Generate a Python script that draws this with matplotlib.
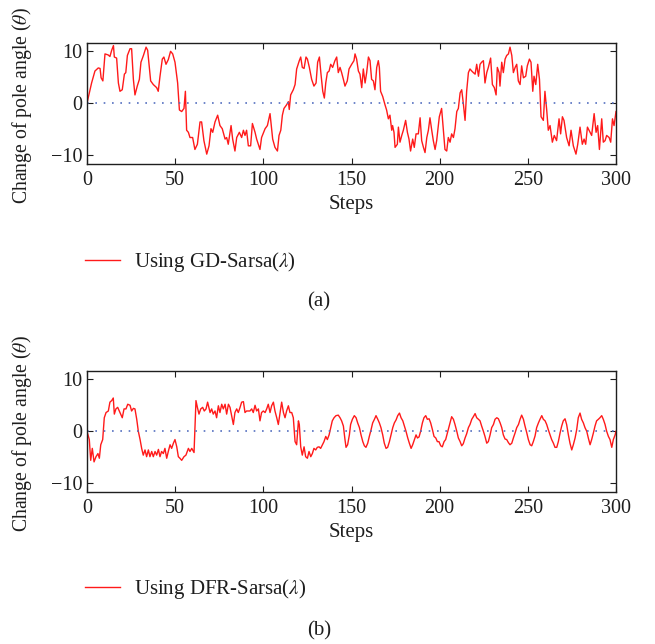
import matplotlib
matplotlib.use("Agg")
import matplotlib.pyplot as plt
from matplotlib.lines import Line2D

plt.rcParams['font.family'] = ['Liberation Serif', 'DejaVu Serif']
plt.rcParams['mathtext.fontset'] = 'stix'

# (a) GD-Sarsa(lambda): steps / pole angle change
steps_a = [0, 2.6, 4.5, 6.4, 7.4, 8, 9, 10.2, 12, 13, 14, 15, 15.5, 16.8, 17.8, 18.7, 20,
           21.2, 22, 22.9, 24.4, 25.3, 26.3, 27.2, 28.5, 29.7, 30.6, 32, 33.5, 34.4, 36.1,
           37.6, 39.5, 40.4, 41.4, 42.7, 43.6, 44.8, 46.1, 47.4, 48.6, 49.9, 51.4, 52.4,
           53.7, 55, 55.8, 56.5, 57.5, 58.4, 59.9, 61.2, 62.6, 64.1, 65, 66.3, 67.9, 69.2,
           70.3, 71.3, 72.6, 74.1, 75.4, 76.7, 78.3, 79.2, 80.1, 81.7, 82.6, 83.9, 84.9,
           86.4, 87.7, 88.7, 89.6, 90.5, 91.5, 92.8, 93.8, 95.3, 96.2, 98.1, 99, 101,
           102.3, 103.8, 104.4, 105.3, 106.6, 108, 108.9, 109.9, 110.8, 111.7, 113.2,
           114.2, 114.7, 115.5, 117, 118, 118.9, 120.4, 121.2, 122.1, 123.1, 124.2, 125,
           126.1, 127.4, 128.7, 129.9, 130.8, 131.8, 132.7, 133.7, 134.6, 135.4, 136.3,
           137.3, 138.2, 139.3, 140.6, 141.6, 142.5, 143.5, 144.4, 145.4, 146.3, 147.6,
           148.6, 150.1, 151.4, 152, 152.9, 153.9, 154.8, 155.8, 156.7, 157.7, 158.6,
           159.6, 160.5, 161.4, 162.4, 163.3, 164.3, 165.2, 165.8, 166.5, 167.7, 169,
           169.9, 170.9, 171.8, 172.8, 173.3, 174.1, 174.7, 176, 176.6, 177.5, 178.5,
           179.4, 180.7, 181.7, 182.6, 183.5, 184.7, 185.6, 186.6, 187.9, 188.9, 189.8,
           190.8, 191.7, 192.7, 193.6, 194.5, 195.5, 196.4, 197.4, 198.3, 199.8,
           201.1, 202.1, 203, 204, 204.9, 205.9, 206.8, 207.8, 208.7, 209.7, 210.6,
           211.6, 212.5, 213.4, 214.4, 215.3, 216.3, 217.2, 218.2, 219.1, 220.1, 221,
           222, 222.9, 223.8, 224.8, 225.7, 226.7, 227.6, 228.9, 229.9, 231, 232, 232.7,
           233.7, 234.2, 235.2, 236.1, 237.1, 238, 239, 239.9, 240.9, 241.8, 242.8,
           243.7, 244.6, 245.6, 246.5, 247.5, 248.8, 249.7, 250.9, 251.8, 252.8, 253.5,
           254.5, 255.6, 256.6, 257.5, 258.8, 259.7, 260.7, 261.6, 262.6, 263.9, 265,
           266.3, 267.7, 268.6, 269.6, 270.5, 272, 273.4, 274.5, 275.8, 277.3, 278.3,
           279.6, 280.9, 281.9, 282.8, 283.8, 284.7, 286.2, 287.6, 288.7, 289.6, 290.6,
           291.9, 292.8, 293.8, 294.7, 296.1, 297, 298, 298.9, 300]
angle_a = [0, 3.9, 6.2, 6.8, 6.7, 4.9, 4.3, 9.5, 9.3, 9, 10.2, 11.1, 8.9, 8.7, 3.9, 2.3, 2.6,
           5.6, 5.9, 9.2, 10.5, 10.5, 4.6, 1.6, 3.3, 4.6, 7.9, 9.2, 10.8, 10.2, 4.3,
           3.6, 3, 2.3, 5.2, 8.5, 8.9, 7.5, 8.4, 10, 9.5, 7.9, 3.9, -1.3,
           -1.6, -1, 2.3, -5.2, -5.6, -6.6, -6.6, -8.9, -7.9, -3.6, -3.6, -7.2, -9.8, -8.2,
           -4.9, -5.6, -3.6, -2.3, -4.3, -4.9, -6.9, -6.6, -7.9, -4.3, -6.9, -9.2, -6.6,
           -5.6, -6.6, -5.2, -6.2, -5.2, -8.2, -8.2, -3.9, -5.6, -6.9, -8.9, -6.6, -4.9,
           -4.3, -2, -3.9, -6.9, -8.5, -9.2, -6.2, -5.2, -2.3, -1, -0.3,
           0.3, -1.2, 1.6, 2.6, 3.6, 6.6, 8.2, 8.9, 6.9, 6.7, 8.9, 8.5,
           6.9, 4.6, 3.3, 3.9, 7.9, 8.9, 5.6, 2.3, 1, 3.9, 5.9,
           6.2, 7.5, 6.9, 8.2, 8.9, 5.9, 6.9, 5.9, 4.6, 3.3, 4.3,
           6.6, 7.5, 8.2, 9.5, 8.5, 6.2, 5.6, 3, 6.6, 3.9, 5.9,
           8.9, 8.2, 4.6, 4.3, 2.6, 6.9, 8.2, 6.9, 2.3, 1.3, -0.3,
           -1.3, -3, -2.3, -5.2, -4.3, -5.6, -8.5, -7.9, -4.6, -7.5, -6.2,
           -5.2, -3.3, -5.6, -6.9, -9.2, -6.9, -8.5, -5.9, -5.9, -2.8, -7.2,
           -8.5, -9.5, -6.6, -5.2, -2.8, -5.2, -7.2, -8.9, -7.2, -2.6,
           -1, -5.2, -8.9, -9.2, -6.6, -7.5, -5.9, -6.6, -4.9, -1.6, -1,
           2, 2.6, 0, -3.3, 2.3, 5.9, 6.6, 6.2, 5.9, 5.6, 7.5,
           5.2, 7.5, 7.9, 8.2, 3.9, 5.9, 6.9, 8.7, 3.6, 3, 1.6, 6.9,
           5.9, 3.3, 7.9, 5.9, 8.5, 9.2, 9.5, 10.8, 9.2, 5.9, 6.9,
           7.5, 4.3, 3.6, 7.2, 4.9, 5.2, 7.2, 8.5, 7.9, 2.3, 5.2,
           3.6, 7.5, 4.6, -2.6, -3.3, 2.3, -1.3, -5.2, -4.3, -7.5, -6.2,
           -7.2, -3, -5.9, -2.6, -3.3, -6.6, -8.2, -5.2, -8.2, -9.8, -7.9,
           -4.6, -7.9, -6.9, -7.9, -4.6, -5.2, -6.2, -2, -5.6, -4.3, -8.9,
           -3, -7.5, -7.2, -6.2, -6.6, -7.5, -3, -4.3, -1.6]

# (b) DFR-Sarsa(lambda)
steps_b = [0, 1.3, 2.1, 3, 4, 5.1, 6.2, 7, 7.8, 8.9, 9.8, 10.8, 12.1, 13, 14, 14.9, 15.5,
           16.4, 17.4, 18.7, 20, 21, 22.1, 23.1, 24.4, 25.3, 26.3, 27.2, 28.2, 29.1, 30.1,
           31, 31.9, 32.9, 33.8, 34.8, 35.7, 36.7, 37.6, 38.6, 39.5, 40.5, 41.4, 42.3,
           43.3, 44.2, 45.2, 46.1, 47.1, 48, 49, 49.9, 50.9, 51.8, 52.7, 53.7, 55, 56.1,
           57.5, 58.4, 59.4, 60.7, 61.8, 62.6, 63.5, 64.5, 65.6, 66.5, 67.5, 68.4, 69.8,
           70.7, 71.6, 72.6, 73.5, 74.5, 75.4, 76.4, 77.3, 78.3, 79.2, 80.2, 81.1, 82,
           83, 83.9, 84.9, 85.8, 86.8, 87.7, 88.7, 89.6, 90.5, 91.5, 92.4, 93.4, 94.3,
           95.3, 96.2, 97.2, 98.1, 99, 100, 101, 101.9, 102.8, 103.8, 104.7, 105.7,
           106.6, 107.6, 108.5, 109.5, 110.4, 111.4, 112.3, 113.2, 114.2, 115.1, 116.1,
           117, 118, 118.9, 119.9, 120.4, 121.2, 122.1, 123.1, 124, 125, 125.9, 126.9,
           127.8, 128.7, 129.7, 130.6, 131.6, 132.5, 133.5, 134.4, 135.4, 136.3, 137.3,
           138.2, 139.1, 140.1, 141.2, 142.5, 143.5, 144.4, 145.4, 146.3, 146.9, 147.8,
           148.8, 149.5, 150.5, 151.6, 152.6, 153.5, 154.5, 155.4, 156.4, 157.3, 158.2,
           159.2, 160.1, 161.1, 162, 163, 163.9, 164.9, 165.8, 166.7, 167.7, 168.6,
           169.6, 170.5, 171.5, 172.4, 173.4, 174.3, 175.3, 176.2, 177.2, 178.1, 179.1,
           180, 180.9, 181.9, 182.8, 183.8, 184.7, 185.7, 186.6, 187.4, 188.3, 189.2,
           190.2, 191.1, 192.1, 193, 194, 194.9, 195.9, 196.8, 197.8, 198.7, 199.6,
           200.6, 201.5, 202.5, 203.4, 204.4, 205.9, 206.8, 207.8, 208.7, 209.7, 210.6,
           211.6, 212.5, 213.4, 214.4, 215.3, 216.3, 217.2, 218.2, 219.1, 220.1, 221,
           222, 222.9, 223.8, 224.8, 225.7, 226.7, 227.6, 228.6, 229.5, 230.5, 231.4,
           232.4, 233.3, 234.3, 235.2, 236.1, 237.1, 238, 239, 239.9, 240.9, 241.8,
           242.8, 243.7, 244.7, 245.6, 246.5, 247.5, 248.4, 249.4, 250.3, 251.3, 252.2,
           253.1, 254.1, 255, 256, 256.9, 257.9, 258.8, 259.8, 260.7, 261.6, 262.6,
           263.5, 264.5, 265.4, 266.4, 267.3, 268.3, 269.2, 270.1, 271.1, 272, 273,
           273.9, 274.9, 275.8, 276.8, 277.7, 278.6, 279.6, 280.5, 281.5, 282.4, 283.4,
           284.3, 285.3, 286.2, 287.2, 288.1, 289, 290, 290.9, 291.9, 292.8, 293.8,
           294.7, 295.7, 296.6, 297.6, 298.5, 299.5, 300]
angle_b = [0, -1.6, -5.6, -3.3, -5.9, -4.9, -4.3, -5.2, -2.6, -1.6, 2.6, 3.6, 3.9, 5.6, 5.9,
           6.4, 3.3, 4.3, 4.6, 3.6, 2.6, 4.3, 4.3, 5.2, 5, 3.9, 4.4, 4.3, 2.3, 0, -1.6,
           -3.3, -4.6, -3.6, -4.9, -3.6, -4.9, -3.9, -4.9, -3.9, -4.6, -3.5, -4.9, -3.9,
           -4.3, -3.3, -5.2, -3.9, -2.6, -3.3, -2.3, -1.6, -3, -4.9, -5.2, -5.6, -4.9,
           -4.6, -3.3, -3.9, -3.3, -4.1, 5.9, 4.6, 3.3, 4.3, 4.6, 3.9, 4.3, 5.6, 3.6,
           4.3, 3.3, 3.9, 2.6, 4.9, 3.6, 5.2, 4.3, 5.2, 3.3, 5.2, 4.6, 3, 1.3, 3.6,
           4.3, 3.6, 4.6, 5.6, 5.7, 3.6, 3.9, 3.9, 3.9, 4.3, 3.6, 5, 3.9, 4.3, 2,
           3.6, 3.9, 3.6, 4.3, 5.2, 3.6, 4.9, 5.6, 3.9, 2.6, 1.3, 3.6, 5.6, 3.6,
           2.6, 3.9, 4.9, 3.6, 3.6, 2.6, -2, -2.6, 2, 1.3, -3, -4.6, -3, -4.9,
           -5.2, -3.9, -4.9, -4.3, -3.3, -3.6, -3.1, -3, -3.3, -2.6, -2, -1, -1.6,
           -0.7, 0.7, 2, 2.6, 3, 3.1, 2.6, 2, 1, -1.6, -3.1, -2.6, -0.7, 1.3,
           2.3, 3, 2.6, 1.6, 0.7, -0.7, -2, -2.8, -3.1, -2.3, -1, 0.3, 1.6, 2.3,
           3, 2.3, 1.6, 0.7, -0.7, -2.3, -3.3, -3.1, -2, -0.7, 0.7, 1.6, 2.2, 3,
           3.5, 2.6, 2, 1, 0, -1.3, -2.3, -3.3, -2.6, -1.6, -0.7, -1.3, -1.1, 0,
           1.6, 2.6, 3, 2.3, 2.4, 1.6, 0.3, -1, -1.3, -2, -2, -2.8, -3, -2,
           -1.6, -0.3, 1.6, 2.8, 2.3, 1.3, 0, -1.3, -2, -2.8, -2.4, -1.3, -0.5,
           0.7, 1.3, 2.3, 2.8, 3.4, 2.6, 2.3, 2, 1, 0, -1, -2.3, -2, -0.7, 0.7,
           1.3, 2.3, 2.6, 2.4, 1.6, 0.7, -0.7, -1.5, -1.6, -2.2, -2.6, -2.3, -1.3,
           -0.3, 0.7, 1.3, 2.3, 3.1, 2.3, 1, -0.3, -1.6, -2.6, -2.8, -2, -0.9, 0.7,
           1.6, 2.3, 3, 2.3, 2, 1.3, 0.3, -0.7, -1.6, -2.3, -3.1, -3.1, -2, -0.3,
           1, 2, 2.4, 1.3, -0.7, -2.3, -3.6, -2.6, -1.3, 0.3, 2.6, 3.5, 2.3, 1.6,
           0.7, 0, -1.3, -2.6, -1.6, -0.3, 1, 2, 2.3, 2.6, 3, 2.3, 1.3, 0, -1,
           -1.6, -3.1, -1.6, -0.7, 0]

xticks = [0, 50, 100, 150, 200, 250, 300]
yticks = [-10, 0, 10]
ylabel = r"Change of pole angle ($\theta$)"

W, H = 655, 644
fig = plt.figure(figsize=(W / 100, H / 100), dpi=100)

panels = [
    (steps_a, angle_a, 43, r"Using GD-Sarsa($\lambda$)", 262, "(a)", 302),
    (steps_b, angle_b, 371, r"Using DFR-Sarsa($\lambda$)", 589, "(b)", 631),
]

ink = "#1e1e1e"
for xs, ys, top, leg, leg_y, tag, tag_y in panels:
    ax = fig.add_axes([87 / W, 1 - (top + 121) / H, 529 / W, 121 / H])
    ax.plot(xs, ys, color="#ff1a1a", lw=1.0)
    ax.axhline(0, color="#5570c0", lw=1.2, ls=(0, (1, 4)))
    ax.set_xlim(0, 300)
    ax.set_ylim(-11.7, 11.6)
    ax.set_xticks(xticks)
    ax.set_yticks(yticks)
    ax.tick_params(direction="in", top=True, right=True, length=4, labelsize=14.5,
                   colors=ink)
    ax.tick_params(axis="x", pad=5)
    for s in ax.spines.values():
        s.set_linewidth(1.0)
        s.set_color(ink)
    ax.set_xlabel("Steps", fontsize=15, labelpad=4, color=ink)
    ax.set_ylabel(ylabel, fontsize=14.2, color=ink)
    ax.yaxis.set_label_coords(-0.1, 0.48)

    handle = Line2D([], [], color="#ff1a1a", lw=1.0)
    fig.legend([handle], [leg], loc="center left",
               bbox_to_anchor=(85 / W, 1 - leg_y / H), frameon=False,
               fontsize=15, handlelength=1.7, handletextpad=0.65,
               borderpad=0, borderaxespad=0, labelcolor=ink)
    fig.text(319 / W, 1 - tag_y / H, tag, ha="center", va="center",
             fontsize=15, color=ink)

fig.savefig("out.png", dpi=100)
